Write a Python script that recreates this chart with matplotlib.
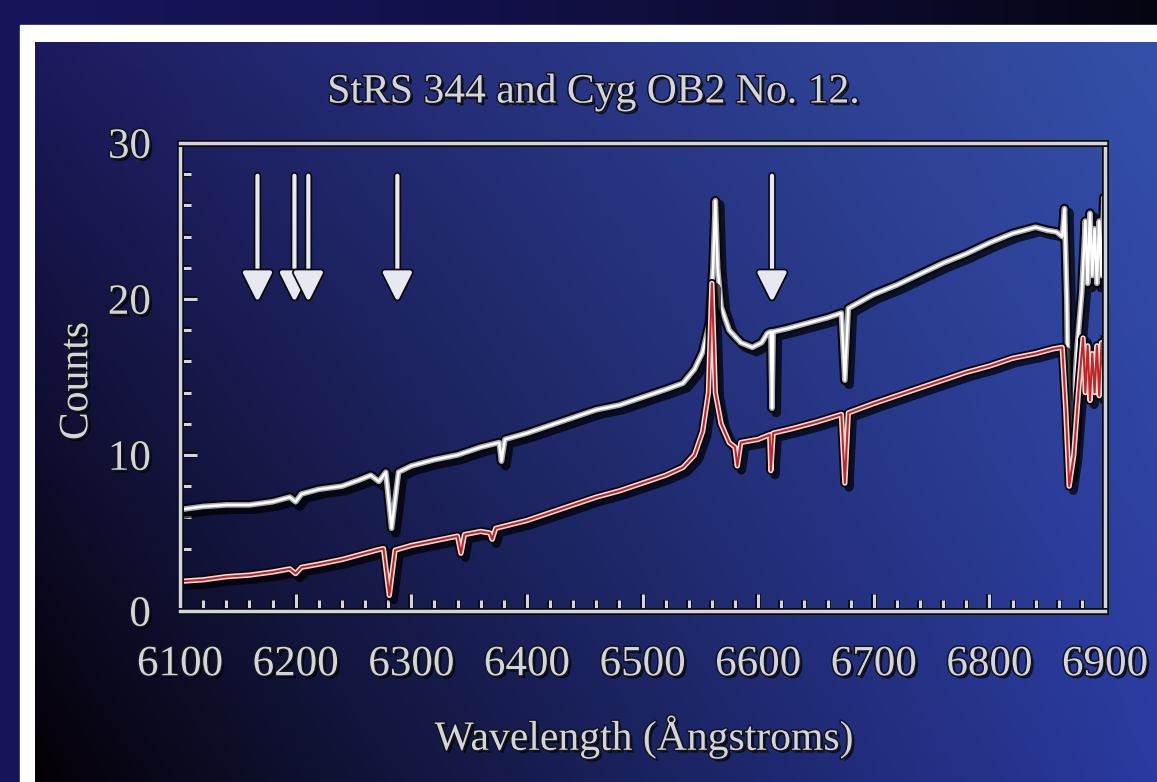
import numpy as np
import matplotlib
matplotlib.use("Agg")
import matplotlib.pyplot as plt
import matplotlib.patheffects as pe
from matplotlib.patches import Rectangle
from matplotlib.ticker import MultipleLocator

# --- data ---
white_wl = [6100, 6120, 6140, 6160, 6180, 6195, 6200, 6205, 6220, 6240, 6255, 6265,
            6272, 6278, 6283, 6289, 6300, 6320, 6340, 6360, 6376, 6378, 6381, 6400,
            6420, 6440, 6460, 6480, 6500, 6520, 6535, 6545, 6552, 6558, 6561, 6563,
            6565, 6568, 6575, 6585, 6595, 6603, 6608, 6611, 6612, 6613, 6625, 6640,
            6660, 6672, 6675, 6678, 6700, 6720, 6740, 6760, 6780, 6800, 6820, 6840,
            6850, 6858, 6863, 6865, 6867, 6869, 6872, 6876, 6880, 6883, 6885, 6887,
            6889, 6891, 6893, 6895, 6897, 6899, 6900]
white_counts = [6.5, 6.7, 6.8, 6.8, 7.0, 7.3, 7.0, 7.5, 7.8, 8.0, 8.4, 8.7,
                8.3, 8.9, 5.3, 8.9, 9.3, 9.7, 10.0, 10.5, 10.8, 9.6, 11.0, 11.4,
                11.9, 12.4, 12.9, 13.2, 13.7, 14.2, 14.6, 15.5, 16.6, 18.5, 22.0, 26.3,
                22.0, 19.5, 18.0, 17.2, 16.9, 17.2, 17.8, 17.9, 13.0, 17.9, 18.1, 18.4,
                18.8, 19.1, 14.8, 19.4, 20.3, 20.9, 21.6, 22.3, 22.9, 23.6, 24.2, 24.6,
                24.4, 24.3, 24.0, 25.8, 20.0, 8.8, 12.0, 17.0, 20.5, 25.0, 21.0, 25.5,
                21.5, 24.5, 21.0, 25.0, 21.5, 26.5, 21.0]

red_wl = [6100, 6120, 6140, 6160, 6180, 6195, 6200, 6205, 6220, 6240, 6255, 6270,
          6276, 6281, 6286, 6300, 6320, 6340, 6343, 6346, 6360, 6368, 6370, 6373,
          6400, 6420, 6440, 6460, 6480, 6500, 6520, 6535, 6545, 6552, 6557, 6560,
          6563, 6568, 6575, 6580, 6582, 6585, 6600, 6610, 6611, 6613, 6630, 6650,
          6672, 6675, 6678, 6700, 6720, 6740, 6760, 6780, 6800, 6820, 6840, 6855,
          6863, 6866, 6869, 6873, 6877, 6881, 6883, 6885, 6887, 6889, 6891, 6893,
          6895, 6897, 6899, 6900]
red_counts = [1.9, 2.0, 2.2, 2.3, 2.5, 2.7, 2.4, 2.8, 3.0, 3.3, 3.6, 3.9,
              4.0, 1.0, 3.9, 4.2, 4.5, 4.8, 3.7, 4.9, 5.1, 5.0, 4.6, 5.3,
              5.8, 6.3, 6.8, 7.3, 7.7, 8.2, 8.7, 9.2, 10.0, 11.5, 14.0, 21.0,
              14.0, 12.0, 10.8, 10.5, 9.3, 10.8, 11.0, 11.3, 9.0, 11.4, 11.7, 12.1,
              12.6, 8.2, 12.7, 13.3, 13.8, 14.3, 14.8, 15.3, 15.7, 16.2, 16.5, 16.8,
              16.9, 13.0, 8.0, 10.0, 14.0, 17.5, 14.0, 17.0, 13.5, 16.5, 14.0, 17.0,
              13.8, 17.2, 14.5, 17.4]

arrow_wl = [6167, 6199, 6211, 6288, 6612]
arrow_top = 27.9
arrow_tip = 19.8

x_ticks = [6100, 6200, 6300, 6400, 6500, 6600, 6700, 6800, 6900]
y_ticks = [0, 10, 20, 30]

W, H = 1157, 782
fig = plt.figure(figsize=(W / 100, H / 100), dpi=100)

# --- background: navy outer, white frame, gradient panel ---
bg = fig.add_axes([0, 0, 1, 1], zorder=0)
bg.set_xlim(0, 1)
bg.set_ylim(0, 1)
bg.axis('off')

gx = np.linspace(0, 1, 300)
outer = np.zeros((2, 300, 3))
for i, c in enumerate(np.array([[0.09, 0.08, 0.36], [0.02, 0.02, 0.07]]).T):
    outer[:, :, i] = c[0] + (c[1] - c[0]) * gx ** 1.5
bg.imshow(outer, extent=[0, 1, 0, 1], aspect='auto', zorder=0)
bg.add_patch(Rectangle((20 / W, 0), 1, 1 - 25 / H, color='white', zorder=1))

tl = np.array([0x1c, 0x1a, 0x5e]) / 255
tr = np.array([0x35, 0x50, 0xa8]) / 255
bl = np.array([0x04, 0x00, 0x04]) / 255
br = np.array([0x2a, 0x3a, 0xa0]) / 255
u = np.linspace(0, 1, 400)[None, :, None]
v = np.linspace(0, 1, 300)[:, None, None]  # 0 = top
u2 = u ** 0.9
inner = (1 - v) * ((1 - u2) * tl + u2 * tr) + v * ((1 - u2) * bl + u2 * br)
bg.imshow(inner, extent=[35 / W, 1, 0, 1 - 42 / H], aspect='auto', zorder=2)

# --- main axes ---
ax = fig.add_axes([180 / W, 1 - 611 / H, 925 / W, 468 / H], zorder=2)
ax.patch.set_alpha(0)
ax.set_xlim(6100, 6900)
ax.set_ylim(0, 30)

metal = '#d4d4dc'
edge = [pe.Stroke(linewidth=5, foreground='#0a0a12'), pe.Normal()]
txt_fx = [pe.withSimplePatchShadow(offset=(2, -2), shadow_rgbFace='black', alpha=0.7),
          pe.Stroke(linewidth=2.2, foreground='#15151c'), pe.Normal()]

# white spectrum
ax.plot(white_wl, white_counts, color='#08080e', lw=7, solid_joinstyle='round',
        path_effects=[pe.SimpleLineShadow(offset=(3, -3), shadow_color='black', alpha=0.7), pe.Normal()])
ax.plot(white_wl, white_counts, color='#a8a8b0', lw=4, solid_joinstyle='round')
ax.plot(white_wl, white_counts, color='white', lw=1.8, solid_joinstyle='round')

# red spectrum
ax.plot(red_wl, red_counts, color='#08080e', lw=6.5, solid_joinstyle='round',
        path_effects=[pe.SimpleLineShadow(offset=(3, -3), shadow_color='black', alpha=0.7), pe.Normal()])
ax.plot(red_wl, red_counts, color='#f2dcdc', lw=3.8, solid_joinstyle='round')
ax.plot(red_wl, red_counts, color='#c02828', lw=1.5, solid_joinstyle='round')

# arrows
for wl in arrow_wl:
    ax.annotate('', xy=(wl, arrow_tip), xytext=(wl, arrow_top),
                arrowprops=dict(arrowstyle='-|>,head_length=0.9,head_width=0.45',
                                mutation_scale=20, lw=3, color='#e8e8f0',
                                shrinkA=0, shrinkB=0,
                                path_effects=[pe.withSimplePatchShadow(offset=(2, -2), shadow_rgbFace='black', alpha=0.7),
                                              pe.Stroke(linewidth=5.5, foreground='#0a0a12'), pe.Normal()]))

# frame and ticks
for s in ax.spines.values():
    s.set_color(metal)
    s.set_linewidth(2.5)
    s.set_path_effects(edge)
ax.set_xticks(x_ticks)
ax.set_yticks(y_ticks)
ax.xaxis.set_minor_locator(MultipleLocator(20))
ax.yaxis.set_minor_locator(MultipleLocator(2))
ax.tick_params(which='both', direction='in', color=metal, width=2.2,
               top=False, right=False)
ax.tick_params(which='major', length=12)
ax.tick_params(which='minor', length=8)
ax.tick_params(axis='x', which='major', pad=25)
ax.tick_params(axis='y', which='major', pad=21)
for tl_ in ax.xaxis.get_ticklines(minor=False) + ax.xaxis.get_ticklines(minor=True) + \
        ax.yaxis.get_ticklines(minor=False) + ax.yaxis.get_ticklines(minor=True):
    tl_.set_path_effects([pe.Stroke(linewidth=4.2, foreground='#0a0a12'), pe.Normal()])

for lab in ax.get_xticklabels() + ax.get_yticklabels():
    lab.set_fontfamily('Liberation Serif')
    lab.set_fontsize(31)
    lab.set_color(metal)
    lab.set_path_effects(txt_fx)

fig.text(593 / W, 1 - 92 / H, 'StRS 344 and Cyg OB2 No. 12.', ha='center', va='center',
         family='Liberation Serif', size=30, color=metal, path_effects=txt_fx)
fig.text(77 / W, 1 - 381 / H, 'Counts', ha='center', va='center', rotation=90,
         family='Liberation Serif', size=30, color=metal, path_effects=txt_fx)
fig.text(644 / W, 1 - 737 / H, 'Wavelength (Ångstroms)', ha='center', va='center',
         family='Liberation Serif', size=30, color=metal, path_effects=txt_fx)

fig.savefig('out.png', dpi=100)
